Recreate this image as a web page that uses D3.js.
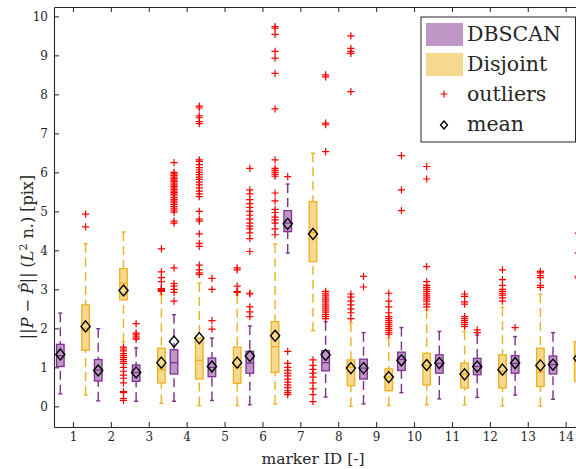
<!DOCTYPE html>
<html>
<head>
<meta charset="utf-8">
<script src="https://cdn.jsdelivr.net/npm/d3@7"></script>
<style>
html,body{margin:0;padding:0;background:#fff;}
svg{display:block;}
text{font-family:"DejaVu Serif","Liberation Serif",serif;fill:#262626;}
</style>
</head>
<body>
<svg id="chart" width="576" height="469"></svg>
<script>
// ---------- data ----------
const markers = [1,2,3,4,5,6,7,8,9,10,11,12,13,14];
const xTicks = [1,2,3,4,5,6,7,8,9,10,11,12,13,14];
const yTicks = [0,1,2,3,4,5,6,7,8,9,10];

// DBSCAN (left of each marker)
const dbLow  = [0.32,0.14,0.13,0.13,0.15,0.04,3.93,0.24,0.06,0.35,0.19,0.23,0.29,0.18];
const dbQ1   = [1.02,0.65,0.64,0.83,0.76,0.85,4.48,0.91,0.70,0.92,0.85,0.81,0.85,0.83];
const dbMed  = [1.30,0.93,0.87,1.12,1.00,1.11,4.70,1.12,0.98,1.20,1.10,1.02,1.10,1.07];
const dbQ3   = [1.59,1.20,1.06,1.45,1.24,1.41,5.02,1.43,1.21,1.39,1.32,1.23,1.30,1.29];
const dbHigh = [2.39,1.99,1.50,2.35,1.75,2.06,5.70,2.17,1.89,2.02,1.92,1.83,1.79,1.89];
const dbMean = [1.33,0.92,0.87,1.66,1.02,1.29,4.68,1.32,0.98,1.18,1.11,1.02,1.11,1.07];
const dbOutliers = [
  [],
  [],
  [1.72,1.75,1.80,1.85,1.88,2.12],
  [2.70,2.92,3.00,3.08,3.15,3.55,4.70,4.75,4.98,5.03,5.08,5.12,5.18,5.22,5.26,5.30,5.35,5.40,5.44,5.48,5.52,5.56,5.60,5.64,5.68,5.72,5.76,5.80,5.84,5.88,5.92,5.96,6.00,6.25],
  [1.98,2.20,3.00,3.28],
  [2.30,2.42,2.55,2.88,2.90,3.97,4.30,4.45,4.55,4.62,4.70,4.80,4.90,5.00,5.10,5.20,5.30,5.45,5.55,6.10],
  [0.30,0.35,0.40,0.48,0.55,0.62,0.70,0.78,0.85,0.92,1.00,1.10,1.41,5.89],
  [2.25,2.30,2.35,2.40,2.45,2.50,2.55,2.60,2.65,2.70,2.75,2.80,2.85,2.90,2.95,6.53,7.22,7.26,8.45,8.50],
  [3.06,3.33],
  [5.02,5.55,6.43],
  [],
  [1.89,1.96],
  [2.02],
  []
];

// Disjoint (right of each marker)
const djLow  = [0.29,1.65,0.08,0.02,0.02,0.06,1.94,0.00,0.02,0.04,0.04,0.01,0.01,0.05];
const djQ1   = [1.44,2.73,0.60,0.70,0.59,0.87,3.71,0.53,0.40,0.55,0.47,0.47,0.51,0.64];
const djMed  = [2.00,3.16,0.94,1.18,1.00,1.53,4.45,1.00,0.75,1.05,0.82,0.90,0.88,1.20];
const djQ3   = [2.60,3.53,1.49,1.75,1.52,2.17,5.25,1.19,0.96,1.36,1.11,1.32,1.49,1.66];
const djHigh = [4.17,4.47,2.86,3.16,2.86,4.16,6.49,2.13,1.75,2.47,1.92,2.54,2.88,2.60];
const djMean = [2.05,2.97,1.12,1.75,1.12,1.81,4.42,0.98,0.75,1.06,0.82,0.94,1.05,1.23];
const djOutliers = [
  [4.60,4.93],
  [0.15,0.20,0.35,0.38,0.60,0.72,0.80,0.90,1.00,1.10,1.15,1.20,1.25,1.30,1.35,1.42,1.47,1.52],
  [2.95,2.97,2.98,3.00,3.02,3.20,3.30,3.45,4.04],
  [3.38,3.42,3.50,3.62,4.10,4.18,4.42,4.75,4.80,5.00,5.38,5.45,5.52,5.60,5.68,5.75,5.82,5.88,5.94,6.00,6.06,6.12,6.20,6.28,6.32,7.25,7.30,7.40,7.45,7.65,7.70],
  [2.92,2.95,3.08,3.50,3.55],
  [4.40,4.55,4.70,4.78,4.85,4.97,5.05,5.27,5.47,5.90,5.95,6.00,6.05,6.10,6.32,7.63,8.54,8.93,9.10,9.54,9.70,9.74],
  [0.12,0.30,0.45,0.60,0.75,0.85,0.95,1.05,1.19],
  [2.25,2.40,2.50,2.60,2.70,2.80,2.88,8.07,9.05,9.10,9.18,9.50],
  [1.85,1.90,1.95,2.00,2.05,2.10,2.15,2.20,2.25,2.30,2.40,2.55,2.70,2.90],
  [2.55,2.62,2.70,2.75,2.80,2.85,2.90,2.95,3.00,3.05,3.10,3.20,3.58,5.83,6.15],
  [2.05,2.10,2.15,2.20,2.25,2.30,2.62,2.68,2.82,2.88],
  [2.70,2.78,2.85,2.90,2.95,3.00,3.10,3.25,3.50],
  [3.05,3.10,3.30,3.35,3.42,3.46],
  [3.29,3.33,3.93,4.44]
];

const legendLabels = ["DBSCAN","Disjoint","outliers","mean"];

// ---------- styles ----------
const edgeCol = {DBSCAN:"#7e2f8e", Disjoint:"#edb120"};
const fillCol = {DBSCAN:"#be97c6", Disjoint:"#f6d88f"};
const axisCol = "#262626";

const svg = d3.select("#chart");
const L = 54, T = 7, B = 427;
const x = d3.scaleLinear().domain([0.5, 14.5]).range([L, L + 14*37.9]);
const y = d3.scaleLinear().domain([-0.53, 10.24]).range([B, T]);

const series = [
  {name:"DBSCAN", offset:-1/3, low:dbLow, q1:dbQ1, med:dbMed, q3:dbQ3, high:dbHigh, mean:dbMean, out:dbOutliers},
  {name:"Disjoint", offset:1/3, low:djLow, q1:djQ1, med:djMed, q3:djQ3, high:djHigh, mean:djMean, out:djOutliers}
];

const boxW = x(0.6) - x(0.4);
const capW = 4;
const g = svg.append("g");

const boxes = [];
series.forEach(s => markers.forEach((m,i) => boxes.push({s, m, i, xc: x(m + s.offset)})));
boxes.sort((a,b) => a.xc - b.xc);

boxes.forEach(b => {
  const s = b.s, i = b.i, xc = b.xc;
  const col = edgeCol[s.name];
  const bg = g.append("g");
  // whiskers
  bg.append("line").attr("x1",xc).attr("x2",xc).attr("y1",y(s.high[i])).attr("y2",y(s.q3[i]))
    .attr("stroke",col).attr("stroke-width",1.4).attr("stroke-dasharray","9,5");
  bg.append("line").attr("x1",xc).attr("x2",xc).attr("y1",y(s.low[i])).attr("y2",y(s.q1[i]))
    .attr("stroke",col).attr("stroke-width",1.4).attr("stroke-dasharray","9,5");
  [s.high[i], s.low[i]].forEach(v => {
    bg.append("line").attr("x1",xc-capW/2).attr("x2",xc+capW/2).attr("y1",y(v)).attr("y2",y(v))
      .attr("stroke",col).attr("stroke-width",1.4);
  });
  // box
  bg.append("rect").attr("x",xc-boxW/2).attr("width",boxW)
    .attr("y",y(s.q3[i])).attr("height",y(s.q1[i]) - y(s.q3[i]))
    .attr("fill",fillCol[s.name]).attr("stroke",col).attr("stroke-width",1.3);
  bg.append("line").attr("x1",xc-boxW/2).attr("x2",xc+boxW/2).attr("y1",y(s.med[i])).attr("y2",y(s.med[i]))
    .attr("stroke",col).attr("stroke-width",1.3);
  // outliers
  s.out[i].forEach(v => {
    const yy = y(v);
    bg.append("path").attr("d",`M${xc-3.6},${yy}H${xc+3.6}M${xc},${yy-3.6}V${yy+3.6}`)
      .attr("stroke","#ff0000").attr("stroke-width",1.2).attr("fill","none");
  });
  // mean
  const ym = y(s.mean[i]);
  bg.append("path").attr("d",`M${xc},${ym-5.5}L${xc+4.6},${ym}L${xc},${ym+5.5}L${xc-4.6},${ym}Z`)
    .attr("fill","none").attr("stroke","#000").attr("stroke-width",1.4);
});

// ---------- axes ----------
const ax = svg.append("g");
const xAxis = d3.axisBottom(x).tickValues(xTicks).tickSize(-5).tickSizeOuter(0).tickPadding(5).tickFormat(d3.format("d"));
const xg = ax.append("g").attr("transform",`translate(0,${B})`).call(xAxis);
const topAxis = d3.axisTop(x).tickValues(xTicks).tickSize(-5).tickSizeOuter(0).tickFormat("");
const tg = ax.append("g").attr("transform",`translate(0,${T})`).call(topAxis);
const yAxis = d3.axisLeft(y).tickValues(yTicks).tickSize(-5).tickSizeOuter(0).tickPadding(6).tickFormat(d3.format("d"));
const yg = ax.append("g").attr("transform",`translate(${L},0)`).call(yAxis);
[xg,tg,yg].forEach(a => {
  a.attr("font-family",null);
  a.selectAll("path.domain").attr("stroke",axisCol).attr("stroke-width",1.1);
  a.selectAll(".tick line").attr("stroke",axisCol).attr("stroke-width",1);
  a.selectAll(".tick text").attr("fill",axisCol).attr("font-size",12);
});

// axis titles
svg.append("text").attr("x",313).attr("y",464).attr("text-anchor","middle").attr("font-size",15.5)
  .text("marker ID [-]");
const yl = svg.append("text").attr("transform","translate(33,257) rotate(-90)").attr("text-anchor","middle").attr("font-size",16);
yl.append("tspan").text("||");
yl.append("tspan").attr("font-style","italic").text("P");
yl.append("tspan").text(" \u2212 ");
yl.append("tspan").attr("font-style","italic").text("P\u0302");
yl.append("tspan").text("|| (");
yl.append("tspan").attr("font-style","italic").text("L");
yl.append("tspan").attr("font-size",11).attr("dy",-6).text("2");
yl.append("tspan").attr("dy",6).text(" n.)  [pix]");

// ---------- legend ----------
const lg = svg.append("g");
lg.append("rect").attr("x",421).attr("y",17).attr("width",154.5).attr("height",125)
  .attr("fill","#fff").attr("stroke",axisCol).attr("stroke-width",1);
lg.append("rect").attr("x",426).attr("y",23).attr("width",37).attr("height",23).attr("fill",fillCol.DBSCAN);
lg.append("rect").attr("x",426).attr("y",53).attr("width",37).attr("height",23).attr("fill",fillCol.Disjoint);
lg.append("path").attr("d","M440.5,94H447.5M444,90.5V97.5").attr("stroke","#ff0000").attr("stroke-width",1.2);
lg.append("path").attr("d","M444,121L447.5,125L444,129L440.5,125Z").attr("fill","none").attr("stroke","#000").attr("stroke-width",1.3);
const ly = [41,71,101,131];
legendLabels.forEach((t,k) => {
  lg.append("text").attr("x",467).attr("y",ly[k]).attr("font-size",20.5).text(t);
});
</script>
</body>
</html>
